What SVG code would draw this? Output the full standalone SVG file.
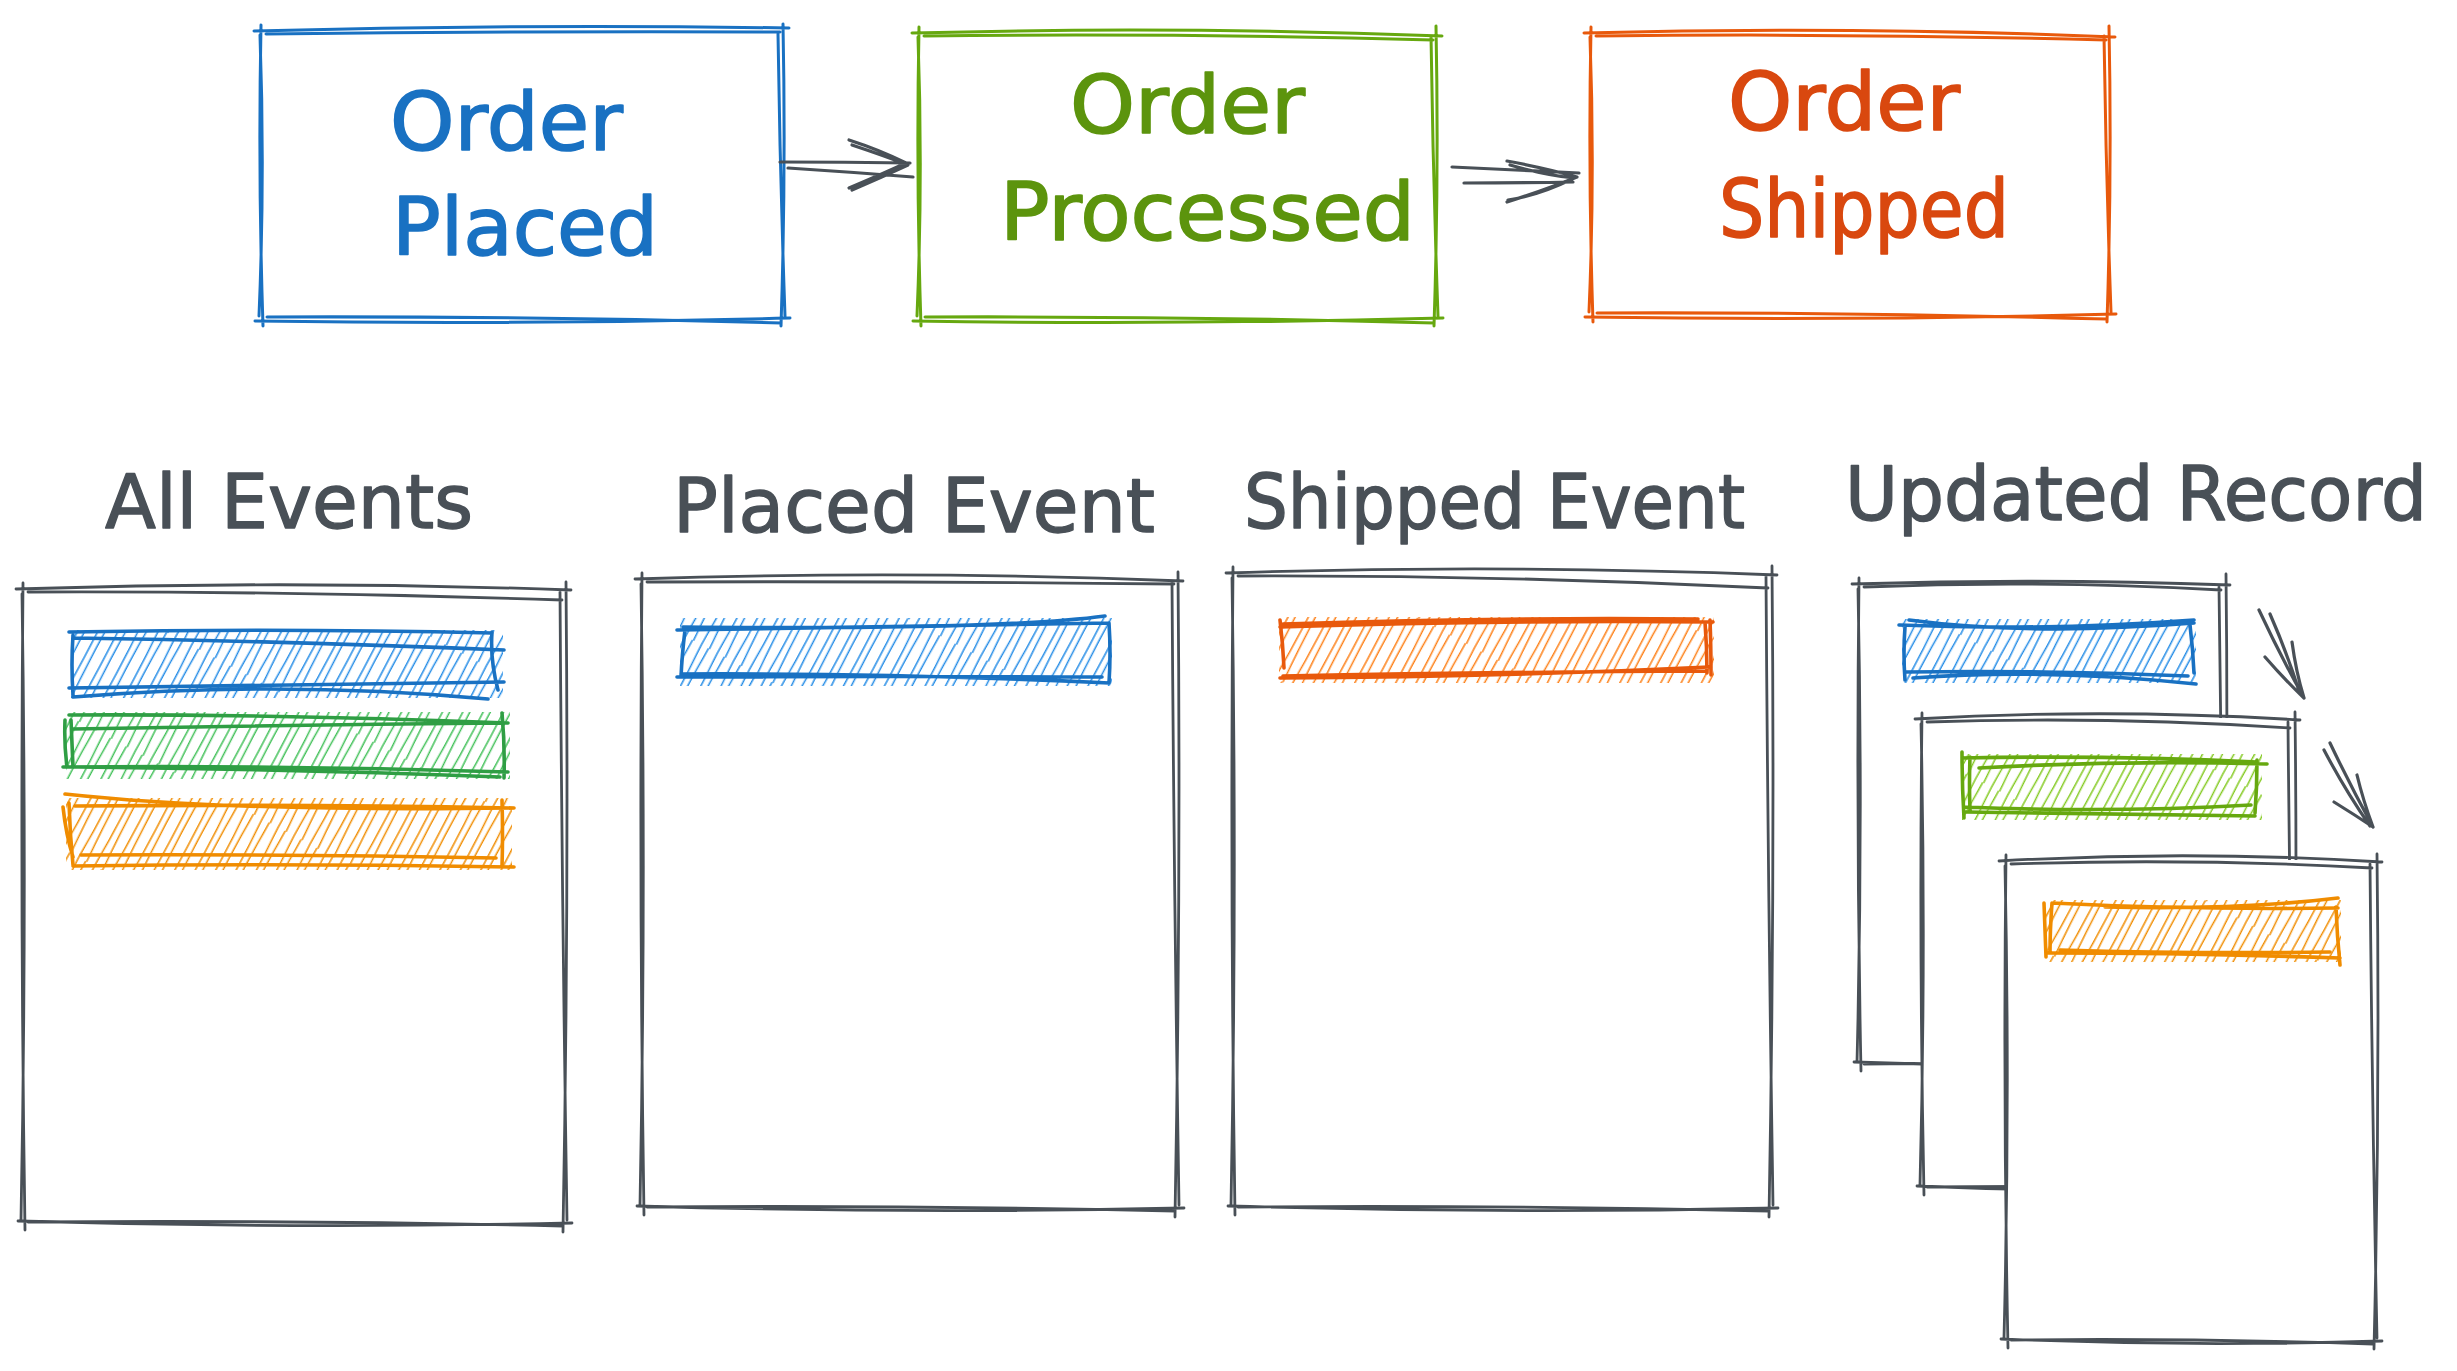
<svg xmlns="http://www.w3.org/2000/svg" width="2457" height="1371" viewBox="0 0 2457 1371">
<style>
.o{fill:none;stroke-linecap:round;stroke-linejoin:round}
.gr{stroke:#495057;stroke-width:2.8}
.top{stroke-width:3}
.bar{stroke-width:3.6}
.blue{stroke:#1971c2}
.green{stroke:#66a80f}
.green2{stroke:#2f9e44}
.red{stroke:#e8590c}
.org{stroke:#f08c00}
.t{font-family:"DejaVu Sans","Liberation Sans",sans-serif;font-size:80px;stroke-width:1.6;stroke-linejoin:round}
.ttl{font-family:"DejaVu Sans","Liberation Sans",sans-serif;font-size:74px;fill:#495057;stroke:#495057;stroke-width:1.4;stroke-linejoin:round}
.arr{fill:none;stroke:#495057;stroke-width:3.2;stroke-linecap:round;stroke-linejoin:round}
</style>
<defs>
<pattern id="hB" width="18" height="120" patternUnits="userSpaceOnUse" patternTransform="rotate(28)"><path d="M4 0 Q6 60 4 120 M12 0 Q10 60 13 120" stroke="#228be6" stroke-width="1.5" fill="none"/></pattern>
<pattern id="hG" width="18" height="120" patternUnits="userSpaceOnUse" patternTransform="rotate(28)"><path d="M4 0 Q6 60 4 120 M12 0 Q10 60 13 120" stroke="#40c057" stroke-width="1.5" fill="none"/></pattern>
<pattern id="hL" width="18" height="120" patternUnits="userSpaceOnUse" patternTransform="rotate(28)"><path d="M4 0 Q6 60 4 120 M12 0 Q10 60 13 120" stroke="#82c91e" stroke-width="1.5" fill="none"/></pattern>
<pattern id="hO" width="18" height="120" patternUnits="userSpaceOnUse" patternTransform="rotate(28)"><path d="M4 0 Q6 60 4 120 M12 0 Q10 60 13 120" stroke="#fd7e14" stroke-width="1.5" fill="none"/></pattern>
<pattern id="hY" width="18" height="120" patternUnits="userSpaceOnUse" patternTransform="rotate(28)"><path d="M4 0 Q6 60 4 120 M12 0 Q10 60 13 120" stroke="#f08c00" stroke-width="1.5" fill="none"/></pattern>
</defs>
<rect width="2457" height="1371" fill="#ffffff"/>

<g id="order-placed">
<path class="o top blue" d="M254 31 Q522 24 789 28 M783 24 Q786 175 781 326 M790 318 Q522 325 255 321 M263 326 Q258 175 261 25 M266 34 Q522 31 780 32 M778 34 Q780 175 785 316 M781 323 Q522 316 267 317 M259 316 Q265 175 260 35"/>
<text class="t" x="390" y="150" textLength="233" lengthAdjust="spacingAndGlyphs" fill="#1971c2" stroke="#1971c2">Order</text>
<text class="t" x="392" y="255" textLength="266" lengthAdjust="spacingAndGlyphs" fill="#1971c2" stroke="#1971c2">Placed</text>
</g>
<g id="order-processed">
<path class="o top green" d="M912 33 Q1177 26 1442 36 M1436 26 Q1439 176 1434 326 M1443 318 Q1177 325 913 321 M921 326 Q916 176 919 27 M924 36 Q1177 33 1433 40 M1431 36 Q1433 176 1438 316 M1434 323 Q1177 316 925 317 M917 316 Q923 176 918 37"/>
<text class="t" x="1070" y="133" textLength="235" lengthAdjust="spacingAndGlyphs" fill="#5c940d" stroke="#5c940d">Order</text>
<text class="t" x="1000" y="240" textLength="415" lengthAdjust="spacingAndGlyphs" fill="#5c940d" stroke="#5c940d">Processed</text>
</g>
<g id="order-shipped">
<path class="o top red" d="M1584 33 Q1850 26 2115 37 M2109 26 Q2112 174 2107 322 M2116 314 Q1850 321 1585 317 M1593 322 Q1588 174 1591 27 M1596 36 Q1850 33 2106 40 M2104 36 Q2106 174 2111 312 M2107 319 Q1850 312 1597 313 M1589 312 Q1595 174 1590 37"/>
<text class="t" x="1728" y="130" textLength="232" lengthAdjust="spacingAndGlyphs" fill="#d9480f" stroke="#d9480f">Order</text>
<text class="t" x="1719" y="237" textLength="290" lengthAdjust="spacingAndGlyphs" fill="#d9480f" stroke="#d9480f">Shipped</text>
</g>

<g id="all-events">
<text class="ttl" x="105" y="528" textLength="368" lengthAdjust="spacingAndGlyphs">All Events</text>
<rect x="24" y="588" width="541" height="637" fill="#ffffff"/>
<path class="o gr" d="M16 589 Q294 580 571 590 M566 582 Q569 906 563 1232 M572 1223 Q294 1229 18 1221 M25 1230 Q20 906 23 583 M28 592 Q294 591 562 600 M560 592 Q562 906 567 1220 M563 1226 Q294 1220 28 1222 M21 1220 Q27 906 22 594"/>
<rect x="71" y="630" width="432" height="68" fill="url(#hB)"/>
<path class="o bar blue" d="M69 632 Q284 628 492 633 M73 638 Q284 641 504 650 M69 688 Q284 685 504 682 M73 697 Q284 680 488 699 M492 632 Q490 660 498 690 M73 635 Q71 665 73 695"/>
<rect x="66" y="712" width="444" height="67" fill="url(#hG)"/>
<path class="o bar green2" d="M69 715 Q284 714 508 723 M73 729 Q284 725 502 723 M63 767 Q284 765 508 772 M79 767 Q284 769 500 777 M65 720 Q64 745 67 767 M71 720 Q72 745 73 767 M502 713 Q505 745 504 778"/>
<rect x="66" y="798" width="446" height="72" fill="url(#hY)"/>
<path class="o bar org" d="M65 794 Q230 812 514 808 M75 806 Q290 804 514 808 M81 855 Q290 854 496 858 M73 866 Q290 863 514 867 M63 807 Q66 835 73 857 M69 803 Q70 835 73 865 M502 800 Q503 835 502 867"/>
</g>

<g id="placed-event">
<text class="ttl" x="673" y="532" textLength="482" lengthAdjust="spacingAndGlyphs">Placed Event</text>
<rect x="643" y="578" width="534" height="632" fill="#ffffff"/>
<path class="o gr" d="M635 579 Q910 570 1183 581 M1178 572 Q1181 894 1175 1217 M1184 1208 Q910 1214 637 1206 M644 1215 Q639 894 642 573 M647 582 Q910 581 1174 584 M1172 582 Q1174 894 1179 1205 M1175 1211 Q910 1205 647 1207 M640 1205 Q646 894 641 584"/>
<rect x="680" y="618" width="432" height="68" fill="url(#hB)"/>
<path class="o bar blue" d="M677 630 Q890 626 1109 623 M683 627 Q1000 630 1105 616 M677 677 Q890 676 1102 677 M681 674 Q900 673 1109 683 M685 630 Q682 655 681 677 M1109 623 Q1111 653 1109 683"/>
</g>

<g id="shipped-event">
<text class="ttl" x="1244" y="528" textLength="501" lengthAdjust="spacingAndGlyphs">Shipped Event</text>
<rect x="1234" y="572" width="537" height="638" fill="#ffffff"/>
<path class="o gr" d="M1226 573 Q1502 564 1777 575 M1772 566 Q1775 891 1769 1217 M1778 1208 Q1502 1214 1228 1206 M1235 1215 Q1230 891 1233 567 M1238 576 Q1502 575 1768 588 M1766 576 Q1768 891 1773 1205 M1769 1211 Q1502 1205 1238 1207 M1231 1205 Q1237 891 1232 578"/>
<rect x="1279" y="617" width="435" height="66" fill="url(#hO)"/>
<path class="o bar red" d="M1280 627 Q1500 620 1713 622 M1283 624 Q1500 617 1698 619 M1280 678 Q1500 677 1709 667 M1283 676 Q1500 672 1706 671 M1280 620 Q1283 645 1284 668 M1705 622 Q1707 647 1707 673 M1710 620 Q1711 645 1711 675"/>
</g>

<g id="updated-record">
<text class="ttl" x="1845" y="520" textLength="582" lengthAdjust="spacingAndGlyphs">Updated Record</text>
<g id="record-1">
<rect x="1860" y="583" width="364" height="483" fill="#ffffff"/>
<path class="o gr" d="M1852 584 Q2042 578 2230 585 M2226 574 Q2229 824 2222 1070 M2230 1064 Q2042 1069 1854 1062 M1861 1071 Q1856 824 1859 578 M1864 587 Q2042 580 2221 590 M2219 587 Q2221 824 2225 1062 M2221 1067 Q2042 1062 1864 1064 M1857 1062 Q1863 824 1858 589"/>
<rect x="1902" y="619" width="294" height="64" fill="url(#hB)"/>
<path class="o bar blue" d="M1899 625 Q2045 631 2194 620 M1909 620 Q2030 636 2194 623 M1905 672 Q2045 670 2188 676 M1913 678 Q2045 668 2196 684 M1905 627 Q1903 653 1905 680 M2190 625 Q2193 650 2194 673"/>
</g>
<g id="record-2">
<rect x="1923" y="718" width="371" height="472" fill="#ffffff"/>
<path class="o gr" d="M1915 719 Q2108 708 2300 720 M2295 712 Q2298 954 2292 1196 M2300 1188 Q2108 1194 1917 1186 M1924 1195 Q1919 954 1922 713 M1927 722 Q2108 716 2290 728 M2288 722 Q2290 954 2295 1185 M2291 1191 Q2108 1185 1927 1187 M1920 1185 Q1926 954 1921 724"/>
<rect x="1962" y="754" width="300" height="66" fill="url(#hL)"/>
<path class="o bar green" d="M1962 758 Q2110 755 2257 762 M1979 768 Q2120 760 2267 764 M1964 807 Q2110 813 2251 805 M1966 812 Q2110 814 2255 816 M1962 752 Q1962 785 1964 818 M1970 757 Q1969 785 1970 810 M2257 760 Q2257 787 2255 813"/>
</g>
<g id="record-3">
<rect x="2007" y="860" width="369" height="483" fill="#ffffff"/>
<path class="o gr" d="M1999 861 Q2191 850 2382 862 M2377 854 Q2380 1101 2374 1349 M2382 1341 Q2191 1347 2001 1339 M2008 1348 Q2003 1101 2006 855 M2011 864 Q2191 858 2372 868 M2370 864 Q2372 1101 2377 1338 M2373 1344 Q2191 1338 2011 1340 M2004 1338 Q2010 1101 2005 866"/>
<rect x="2045" y="900" width="296" height="62" fill="url(#hY)"/>
<path class="o bar org" d="M2052 903 Q2190 910 2338 908 M2105 907 Q2240 910 2338 898 M2048 953 Q2190 953 2340 958 M2060 950 Q2200 954 2330 952 M2044 903 Q2045 930 2046 957 M2052 903 Q2050 930 2050 953 M2336 907 Q2337 935 2340 965"/>
</g>
</g>

<g id="connectors">
<path class="arr" d="M780 162 Q845 162 910 163 M788 168 Q850 172 913 177 M849 140 Q880 150 906 163 Q880 175 849 188 M852 145 Q885 156 908 165 Q880 178 852 190"/>
<path class="arr" d="M1452 167 Q1515 170 1579 173 M1464 183 Q1520 183 1573 182 M1507 161 Q1545 168 1577 177 Q1545 190 1507 202 M1510 165 Q1545 175 1574 178 Q1540 195 1508 200"/>
<path class="arr" d="M2259 610 Q2280 655 2304 698 M2270 614 Q2288 655 2300 694 M2265 657 Q2285 680 2304 698 M2292 642 Q2296 672 2304 698"/>
<path class="arr" d="M2330 743 Q2350 785 2373 827 M2324 750 Q2345 790 2370 826 M2334 802 Q2355 815 2373 827 M2357 775 Q2363 800 2373 827"/>
</g>
</svg>
